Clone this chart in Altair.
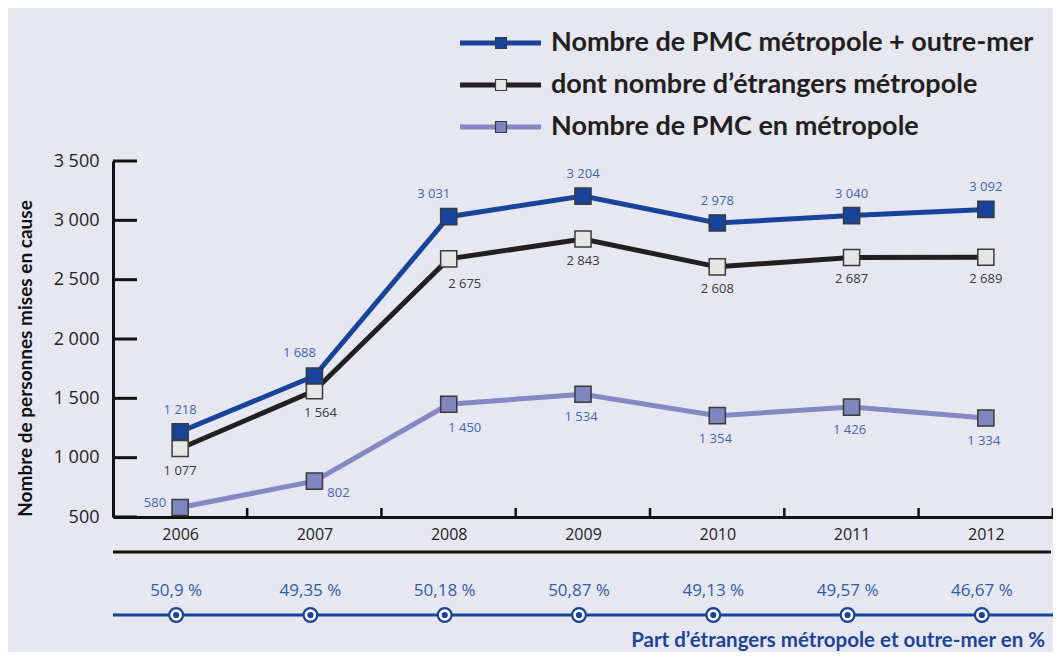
import altair as alt
import pandas as pd

# ---------------- data ----------------
years = ["2006", "2007", "2008", "2009", "2010", "2011", "2012"]
total = [1218, 1688, 3031, 3204, 2978, 3040, 3092]          # Nombre de PMC métropole + outre-mer
etrangers = [1077, 1564, 2675, 2843, 2608, 2687, 2689]      # dont nombre d'étrangers métropole
metropole = [580, 802, 1450, 1534, 1354, 1426, 1334]        # Nombre de PMC en métropole
part = [50.9, 49.35, 50.18, 50.87, 49.13, 49.57, 46.67]      # Part d'étrangers (%)
series_names = [
    "Nombre de PMC métropole + outre-mer",
    "dont nombre d’étrangers métropole",
    "Nombre de PMC en métropole",
]
y_ticks = [500, 1000, 1500, 2000, 2500, 3000, 3500]
y_title = "Nombre de personnes mises en cause"
strip_title = "Part d’étrangers métropole et outre-mer en %"


def fmt(v):
    return f"{v:,}".replace(",", " ")


def sdf(vals):
    return pd.DataFrame({"year": years, "value": vals, "label": [fmt(v) for v in vals]})


pct_df = pd.DataFrame({"year": years, "pct": part,
                       "plabel": [f"{p}".replace(".", ",") + " %" for p in part]})
tick_df = pd.DataFrame({"value": y_ticks})
one = pd.DataFrame({"k": [0]})

# ---------------- style ----------------
BG = "#E7E7F1"
BLUE = "#17439A"
BLACK = "#231F20"
PURPLE = "#8389C3"
LBLUE = "#3D68B3"
BOLDF = "Lato"
REG = "Open Sans"

xscale = alt.Scale(type="point", domain=years, padding=0.5)
yscale = alt.Scale(domain=[500, 3500], nice=False, zero=False)
xaxis = alt.Axis(title=None, ticks=False, grid=False, domain=True, domainColor="#111",
                 domainWidth=3, labelFont=REG, labelFontSize=16, labelColor="#222",
                 labelPadding=9, labelAngle=0)
yaxis = alt.Axis(title=y_title, values=y_ticks, ticks=False, grid=False, domainColor="#111",
                 domainWidth=3, labelFont=REG, labelFontSize=18, labelColor="#222",
                 labelPadding=14, labelExpr="replace(format(datum.value, ','), ',', ' ')",
                 titleX=-88, titleY=197, titleAngle=270, titleAlign="center",
                 titleBaseline="middle", titleFont=BOLDF, titleFontSize=19,
                 titleFontWeight="bold", titleColor="#111")
x_enc = alt.X("year:O", scale=xscale, axis=xaxis)
y_enc = alt.Y("value:Q", scale=yscale, axis=yaxis)

layers = []

# y tick marks (pointing inward)
layers.append(alt.Chart(tick_df).mark_rule(color="#111", strokeWidth=3).encode(
    x=alt.value(0), x2=alt.value(24), y=y_enc))
# x tick marks between categories (pointing upward)
layers.append(alt.Chart(sdf(total)).mark_rule(color="#111", strokeWidth=2.5, xOffset=67).encode(
    x=x_enc, y=alt.value(347), y2=alt.value(356)))

styles = [
    (total, BLUE, BLUE),
    (etrangers, BLACK, "#E6E6E6"),
    (metropole, PURPLE, "#7F86BF"),
]

for vals, lc, fc in reversed(styles):
    layers.append(alt.Chart(sdf(vals)).mark_line(color=lc, strokeWidth=5).encode(x=x_enc, y=y_enc))
for vals, lc, fc in reversed(styles):
    layers.append(alt.Chart(sdf(vals)).mark_square(size=260, fill=fc, stroke="#3A3A3A",
                                                   strokeWidth=1.5, opacity=1).encode(x=x_enc, y=y_enc))


def labels(vals, sel, color, dx, dy, align="center"):
    return alt.Chart(sdf(vals)).transform_filter(
        alt.FieldOneOfPredicate(field="year", oneOf=sel)
    ).mark_text(font=REG, fontSize=13, color=color, dx=dx, dy=dy, align=align,
                baseline="middle").encode(x=x_enc, y=y_enc, text="label:N")


layers += [
    labels(total, ["2006", "2009", "2010", "2011", "2012"], LBLUE, 0, -22),
    labels(total, ["2007", "2008"], LBLUE, -15, -23),
    labels(etrangers, ["2006", "2009", "2010", "2011", "2012"], "#3A3A3A", 0, 22),
    labels(etrangers, ["2007"], "#3A3A3A", 6, 22),
    labels(etrangers, ["2008"], "#3A3A3A", 16, 25),
    labels(metropole, ["2009", "2010", "2011", "2012"], LBLUE, -2, 23),
    labels(metropole, ["2008"], LBLUE, 16, 24),
    labels(metropole, ["2006"], LBLUE, -14, -5, "right"),
    labels(metropole, ["2007"], LBLUE, 24, 12),
]

# ---------------- bottom strip ----------------
layers.append(alt.Chart(one).mark_rule(color="#111", strokeWidth=3).encode(
    x=alt.value(0), x2=alt.value(938), y=alt.value(391)))
layers.append(alt.Chart(pct_df).mark_text(font=REG, fontSize=17, color="#2F5DAA",
                                          baseline="middle", dx=-4).encode(
    x=x_enc, y=alt.value(430), text="plabel:N"))
layers.append(alt.Chart(one).mark_rule(color=BLUE, strokeWidth=3).encode(
    x=alt.value(0), x2=alt.value(940), y=alt.value(454)))
layers.append(alt.Chart(pct_df).mark_point(shape="circle", size=190, fill="white", filled=True,
                                           stroke=BLUE, strokeWidth=2.2, opacity=1, xOffset=-4).encode(
    x=x_enc, y=alt.value(454)))
layers.append(alt.Chart(pct_df).mark_circle(size=38, color=BLUE, opacity=1, xOffset=-4).encode(
    x=x_enc, y=alt.value(454)))
layers.append(alt.Chart(one).mark_text(font=BOLDF, fontSize=20.5, fontWeight="bold", color="#1D4597",
                                       align="right", baseline="middle").encode(
    x=alt.value(932), y=alt.value(480), text=alt.value(strip_title)))

# ---------------- legend ----------------
leg_y = [-118, -76, -34]
for (vals, lc, fc), name, yy in zip(styles, series_names, leg_y):
    layers.append(alt.Chart(one).mark_rule(color=lc, strokeWidth=5).encode(
        x=alt.value(347), x2=alt.value(428), y=alt.value(yy)))
    layers.append(alt.Chart(one).mark_square(size=120, fill=fc, stroke="#3A3A3A",
                                             strokeWidth=1.2, opacity=1).encode(
        x=alt.value(388), y=alt.value(yy)))
    layers.append(alt.Chart(one).mark_text(font=BOLDF, fontSize=27, fontWeight="bold", color=BLACK,
                                           align="left", baseline="middle").encode(
        x=alt.value(438), y=alt.value(yy), text=alt.value(name)))

chart = alt.layer(*layers).properties(
    width=940, height=356,
    autosize=alt.AutoSizeParams(type="none"),
    padding={"left": 105, "top": 153, "right": 0, "bottom": 135},
    background=BG,
).configure_view(stroke=None)

chart.save("out.html", embed_options={"renderer": "svg", "actions": False})
